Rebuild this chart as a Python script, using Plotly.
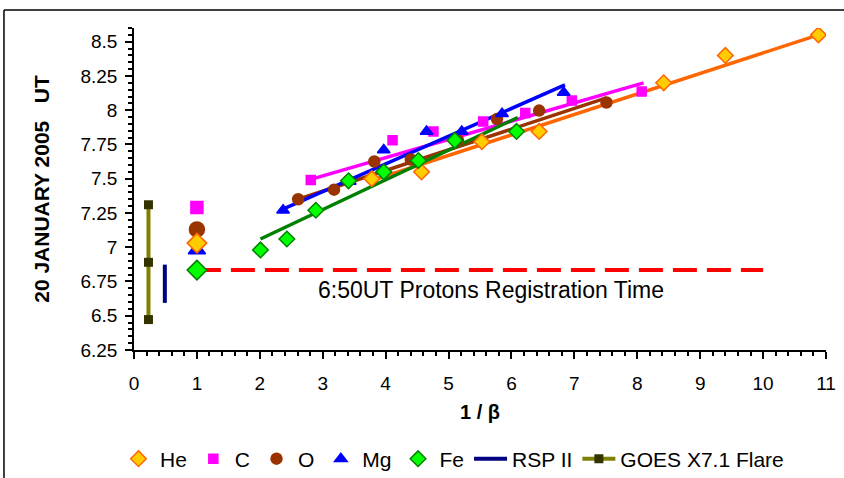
import plotly.graph_objects as go

# ---------------- data ----------------
he_x = [3.78, 4.57, 5.53, 6.44, 8.42, 9.40, 10.88]
he_y = [7.50, 7.55, 7.77, 7.845, 8.20, 8.40, 8.55]
c_x = [2.81, 4.11, 4.76, 5.55, 6.22, 6.96, 8.07]
c_y = [7.49, 7.78, 7.845, 7.917, 7.98, 8.07, 8.136]
o_x = [2.61, 3.18, 3.82, 4.40, 5.15, 5.77, 6.44, 7.51]
o_y = [7.35, 7.42, 7.626, 7.64, 7.78, 7.935, 7.997, 8.056]
mg_x = [2.37, 3.43, 3.97, 4.65, 5.21, 5.85, 6.83]
mg_y = [7.27, 7.48, 7.71, 7.845, 7.845, 7.975, 8.13]
fe_x = [2.01, 2.43, 2.89, 3.41, 3.97, 4.52, 5.10, 6.08]
fe_y = [6.98, 7.06, 7.27, 7.485, 7.55, 7.633, 7.78, 7.845]

# points at 1/beta = 1
one_x = [1]
he_one = [7.03]
c_one = [7.29]
o_one = [7.13]
mg_one = [6.98]
fe_one = [6.833]

# trend lines (read endpoints)
he_fit_x = [3.78, 10.88]
he_fit_y = [7.487, 8.55]
c_fit_x = [2.81, 8.10]
c_fit_y = [7.495, 8.20]
o_fit_x = [2.61, 7.51]
o_fit_y = [7.35, 8.09]
mg_fit_x = [2.35, 6.85]
mg_fit_y = [7.274, 8.185]
fe_fit_x = [2.01, 6.10]
fe_fit_y = [7.06, 7.947]

rsp_x = [0.49, 0.49]
rsp_y = [6.594, 6.873]
goes_x = [0.23, 0.23, 0.23]
goes_y = [6.472, 6.89, 7.31]

proton_x = [1, 10]
proton_y = [6.833, 6.833]

y_ticks = [6.25, 6.5, 6.75, 7, 7.25, 7.5, 7.75, 8, 8.25, 8.5]
y_tick_text = ["6.25", "6.5", "6.75", "7", "7.25", "7.5", "7.75", "8", "8.25", "8.5"]
x_ticks = list(range(0, 12))

# ---------------- styles ----------------
ORANGE = "#FF6600"
GOLD = "#FFCC00"
MAG = "#FF00FF"
BROWN = "#993300"
BLUE = "#0000FF"
GREEN = "#00FF00"
DGREEN = "#008000"
NAVY = "#000080"
OLIVE = "#808000"
DARKO = "#333300"

fig = go.Figure()

def line(x, y, color, width=3.5, dash=None):
    fig.add_trace(go.Scatter(x=x, y=y, mode="lines", showlegend=False,
                             line=dict(color=color, width=width, dash=dash),
                             hoverinfo="skip"))

# trend lines
line(he_fit_x, he_fit_y, ORANGE)
line(c_fit_x, c_fit_y, MAG)
line(o_fit_x, o_fit_y, BROWN)
line(fe_fit_x, fe_fit_y, DGREEN)
line(mg_fit_x, mg_fit_y, BLUE)
line(proton_x, proton_y, "#FF0000", width=4, dash="24px,10px")

def pts(x, y, name, symbol, fill, edge, size, legend):
    fig.add_trace(go.Scatter(
        x=x, y=y, mode="markers", name=name, showlegend=legend,
        marker=dict(symbol=symbol, color=fill, size=size,
                    line=dict(color=edge, width=1.5))))

pts(he_x, he_y, "He", "diamond", GOLD, ORANGE, 12, True)
pts(c_x, c_y, "C", "square", MAG, MAG, 9, True)
pts(o_x, o_y, "O", "circle", BROWN, BROWN, 11, True)
pts(mg_x, mg_y, "Mg", "triangle-up", BLUE, BLUE, 11, True)
pts(fe_x, fe_y, "Fe", "diamond", GREEN, DGREEN, 12, True)

# big points at 1/beta = 1
pts(one_x, c_one, "C", "square", MAG, MAG, 12, False)
pts(one_x, o_one, "O", "circle", BROWN, BROWN, 15, False)
pts(one_x, mg_one, "Mg", "triangle-up", BLUE, BLUE, 15, False)
pts(one_x, he_one, "He", "diamond", GOLD, ORANGE, 15, False)
pts(one_x, fe_one, "Fe", "diamond", GREEN, DGREEN, 15, False)

fig.add_trace(go.Scatter(x=rsp_x, y=rsp_y, mode="lines", name="RSP II",
                         line=dict(color=NAVY, width=4)))
fig.add_trace(go.Scatter(x=goes_x, y=goes_y, mode="lines+markers",
                         name="GOES X7.1 Flare",
                         line=dict(color=OLIVE, width=4),
                         marker=dict(symbol="square", size=9, color=DARKO)))

fig.add_annotation(x=5.67, y=6.69, text="6:50UT Protons Registration Time",
                   showarrow=False, font=dict(size=23, color="black"))

# chart frame (left and top edges)
fig.add_shape(type="line", xref="paper", yref="paper",
              x0=-0.1879, x1=-0.1879, y0=-0.45, y1=1.0558,
              line=dict(color="black", width=1.5))
fig.add_shape(type="line", xref="paper", yref="paper",
              x0=-0.1879, x1=1.05, y0=1.0558, y1=1.0558,
              line=dict(color="black", width=1.5))

fig.update_layout(
    width=844, height=478,
    margin=dict(l=134, r=18, t=28, b=128),
    paper_bgcolor="white", plot_bgcolor="white",
    font=dict(family="Liberation Sans, Arial, sans-serif", size=19, color="black"),
    showlegend=True,
    legend=dict(orientation="h", xref="container", yref="container",
                x=0.1386, xanchor="left", y=0.0397, yanchor="middle",
                font=dict(size=21), itemwidth=33,
                bgcolor="rgba(0,0,0,0)"),
    xaxis=dict(range=[0, 11], tickvals=x_ticks, showgrid=False, zeroline=False,
               automargin=False,
               showline=True, linecolor="black", linewidth=1.5,
               ticks="outside", ticklen=7, tickwidth=1.5, tickcolor="black",
               ticklabelstandoff=8,
               minor=dict(dtick=0.2, tick0=0, ticks="outside", ticklen=4,
                          tickcolor="black", showgrid=False),
               title=dict(text="<b>1 / β</b>", font=dict(size=20), standoff=12)),
    yaxis=dict(range=[6.25, 8.6], tickvals=y_ticks, ticktext=y_tick_text,
               showgrid=False, zeroline=False, automargin=False,
               showline=True, linecolor="black", linewidth=1.5,
               ticks="outside", ticklen=7, tickwidth=1.5, tickcolor="black",
               ticklabelstandoff=4,
               minor=dict(dtick=0.05, tick0=6.25, ticks="outside", ticklen=4,
                          tickcolor="black", showgrid=False),
               title=dict(text="<b>20 JANUARY 2005\u00a0\u00a0 UT</b>",
                          font=dict(size=21), standoff=25)),
)

fig.write_html("out.html", config={"displayModeBar": False},
               post_script="document.body.style.margin='0px';")
